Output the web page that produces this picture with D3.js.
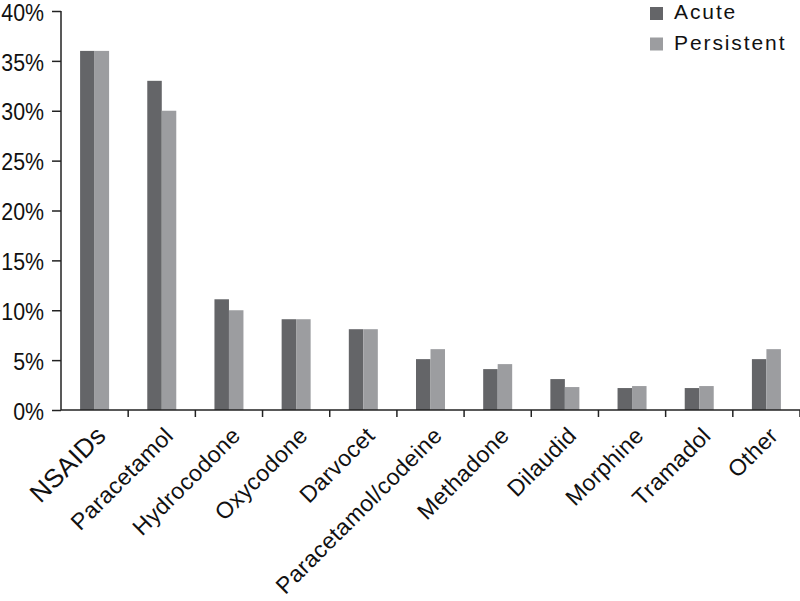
<!DOCTYPE html>
<html>
<head>
<meta charset="utf-8">
<script src="https://cdn.jsdelivr.net/npm/d3@7"></script>
<style>
  body { margin: 0; background: #fff; }
  text { font-family: "Liberation Sans", Arial, sans-serif; fill: #111; }
</style>
</head>
<body>
<div id="chart"></div>
<script>
const drugs = ["NSAIDs", "Paracetamol", "Hydrocodone", "Oxycodone", "Darvocet",
  "Paracetamol/codeine", "Methadone", "Dilaudid", "Morphine", "Tramadol", "Other"];
const acute = [36, 33, 11.1, 9.1, 8.1, 5.1, 4.1, 3.1, 2.2, 2.2, 5.1];
const persistent = [36, 30, 10, 9.1, 8.1, 6.1, 4.6, 2.3, 2.4, 2.4, 6.1];
const seriesNames = ["Acute", "Persistent"];
const seriesColors = ["#646568", "#9c9da0"];
const yTicks = [0, 5, 10, 15, 20, 25, 30, 35, 40];

const width = 800, height = 601;
const margin = { top: 11, right: 0, bottom: 191, left: 61 };

const svg = d3.select("#chart").append("svg")
  .attr("width", width).attr("height", height);

const x = d3.scaleBand()
  .domain(drugs)
  .range([margin.left, width - margin.right]);

const y = d3.scaleLinear()
  .domain([0, 40])
  .range([height - margin.bottom, margin.top]);

const barW = 14.5;
const xs = d3.scaleBand().domain(seriesNames).range([-barW, barW]);

// bars
const rows = drugs.map((d, i) => ({ drug: d, vals: [acute[i], persistent[i]] }));
svg.append("g").selectAll("g")
  .data(rows)
  .enter().append("g")
    .attr("transform", d => "translate(" + (x(d.drug) + x.bandwidth() / 2) + ",0)")
  .selectAll("rect")
  .data(d => d.vals.map((v, j) => ({ v: v, s: seriesNames[j], c: seriesColors[j] })))
  .enter().append("rect")
    .attr("x", d => xs(d.s))
    .attr("width", xs.bandwidth())
    .attr("y", d => y(d.v))
    .attr("height", d => y(0) - y(d.v))
    .style("fill", d => d.c);

// y axis (condensed labels via horizontal squeeze)
const yAxis = svg.append("g")
  .attr("transform", "translate(" + margin.left + ",0)")
  .call(d3.axisLeft(y).tickValues(yTicks).tickSize(9).tickPadding(10)
    .tickFormat(d => d + "%"));
yAxis.selectAll("text")
  .style("font-size", "24px").attr("dy", "0.38em")
  .attr("transform", "scale(0.89,1)");
yAxis.select(".domain").attr("d", "M0," + y(0) + "V" + y(40)).style("stroke", "#222").style("stroke-width", 1.5);
yAxis.selectAll(".tick line").style("stroke", "#222").style("stroke-width", 1.5);

// x axis
const xAxis = svg.append("g")
  .attr("transform", "translate(0," + y(0) + ")");
xAxis.append("line")
  .attr("x1", margin.left).attr("x2", width)
  .style("stroke", "#222").style("stroke-width", 1.5);
xAxis.selectAll(".xt")
  .data(drugs)
  .enter().append("line")
    .attr("x1", d => x(d) + x.bandwidth())
    .attr("x2", d => x(d) + x.bandwidth())
    .attr("y1", 0).attr("y2", 7)
    .style("stroke", "#222").style("stroke-width", 1.5);

xAxis.selectAll(".xl")
  .data(drugs)
  .enter().append("text")
    .attr("text-anchor", "end")
    .attr("transform", d => "translate(" + (x(d) + x.bandwidth() / 2 + 13) + ",27) rotate(-45)")
    .style("font-size", d => d === "NSAIDs" ? "26px" : "23px")
    .style("letter-spacing", "0.4px")
    .text(d => d);

// legend
const legend = svg.append("g").attr("transform", "translate(650,7)");
seriesNames.forEach((s, i) => {
  legend.append("rect")
    .attr("x", 0).attr("y", i * 30.5)
    .attr("width", 13).attr("height", 13)
    .style("fill", seriesColors[i]);
  legend.append("text")
    .attr("x", 24).attr("y", i * 30.5 + 12)
    .style("font-size", "21px")
    .style("letter-spacing", "1.9px")
    .text(s);
});
</script>
</body>
</html>
